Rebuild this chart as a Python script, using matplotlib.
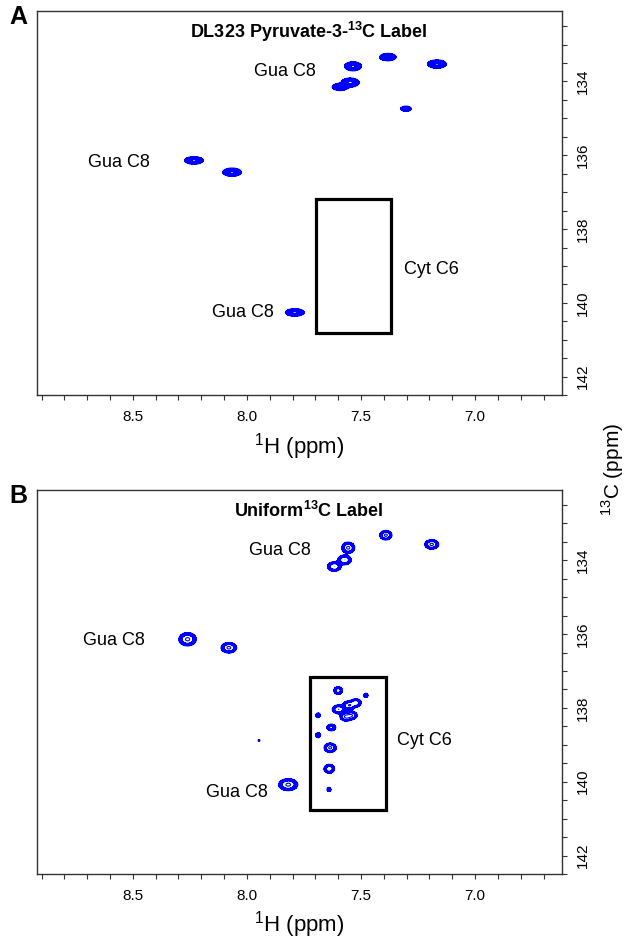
#!/usr/bin/env python3

import matplotlib
matplotlib.use("Agg")
import matplotlib.pyplot as plt
from matplotlib.patches import Rectangle
from matplotlib.ticker import MultipleLocator, FormatStrFormatter
import numpy as np

plt.rcParams['font.family'] = ['Liberation Sans', 'DejaVu Sans']
plt.rcParams['mathtext.fontset'] = 'custom'
plt.rcParams['mathtext.rm'] = 'Liberation Sans'
plt.rcParams['mathtext.bf'] = 'Liberation Sans:bold'

# peak list, panel A (DL323 pyruvate-3-13C): 1H ppm, 13C ppm, height, linewidths
h_a = [7.535, 7.382, 7.167, 7.547, 7.591, 7.303, 8.232, 8.065, 7.790]
c_a = [133.59, 133.34, 133.53, 134.03, 134.15, 134.74, 136.14, 136.46, 140.26]
amp_a = [1.0, 0.9, 1.0, 1.0, 0.8, 0.6, 1.0, 1.0, 1.0]
sx_a = [0.018, 0.018, 0.020, 0.019, 0.018, 0.013, 0.020, 0.020, 0.020]
sy_a = [0.060, 0.050, 0.055, 0.060, 0.050, 0.040, 0.050, 0.055, 0.050]

# peak list, panel B (uniform 13C)
h_b = [7.391, 7.190, 7.556, 7.617, 7.572, 8.260, 8.079, 7.600, 7.479,
       7.598, 7.552, 7.522, 7.565, 7.540, 7.688, 7.630, 7.688, 7.635,
       7.639, 7.640, 7.819, 7.947]
c_b = [133.32, 133.57, 133.66, 134.17, 133.99, 136.14, 136.37, 137.53, 137.66,
       138.04, 137.93, 137.86, 138.24, 138.20, 138.20, 138.53, 138.74, 139.08,
       139.65, 140.21, 140.08, 138.88]
amp_b = [1.0, 1.0, 1.0, 0.9, 0.9, 1.0, 1.0, 0.7, 0.3,
         0.9, 0.9, 0.8, 1.0, 0.8, 0.35, 0.6, 0.4, 1.0,
         0.8, 0.3, 1.0, 0.2]
sx_b = [0.014, 0.016, 0.015, 0.016, 0.016, 0.020, 0.018, 0.011, 0.009,
        0.015, 0.015, 0.013, 0.014, 0.013, 0.008, 0.012, 0.008, 0.014,
        0.013, 0.008, 0.022, 0.006]
sy_b = [0.068, 0.068, 0.080, 0.070, 0.070, 0.095, 0.075, 0.062, 0.050,
        0.065, 0.065, 0.060, 0.062, 0.060, 0.050, 0.056, 0.050, 0.068,
        0.068, 0.050, 0.085, 0.035]

titles = [r'DL323 Pyruvate-3-$\mathbf{^{13}}$C Label', r'Uniform$\mathbf{^{13}}$C Label']
letters = ['A', 'B']
labels = ['Gua C8', 'Gua C8', 'Gua C8', 'Cyt C6']
label_h = [[7.833, 8.561, 8.018, 7.193], [7.856, 8.583, 8.044, 7.220]]
label_c = [[133.73, 136.20, 140.26, 139.10], [133.74, 136.18, 140.28, 138.88]]
box_h = [(7.697, 7.367), (7.725, 7.391)]
box_c = [(137.19, 140.81), (137.15, 140.78)]

xs = np.linspace(6.6, 8.95, 1300)
ys = np.linspace(132.0, 142.6, 1300)
X, Y = np.meshgrid(xs, ys)


def spectrum(h, c, amp, sx, sy):
    z = np.zeros_like(X)
    for i in range(len(h)):
        z += amp[i] * np.exp(-0.5 * (((X - h[i]) / sx[i]) ** 2 + ((Y - c[i]) / sy[i]) ** 2))
    return z


fig = plt.figure(figsize=(6.3, 9.43), dpi=100)
ax_a = fig.add_axes([0.0587, 0.581, 0.833, 0.407])
ax_b = fig.add_axes([0.0587, 0.0732, 0.833, 0.407])

za = spectrum(h_a, c_a, amp_a, sx_a, sy_a)
zb = spectrum(h_b, c_b, amp_b, sx_b, sy_b)

ax_a.contourf(X, Y, za, levels=[0.12, 0.88], colors=['#0000ff'])
ax_a.contour(X, Y, za, levels=[0.12, 0.88], colors='#0000ff', linewidths=0.8)
ax_b.contourf(X, Y, zb, levels=[0.16, 0.5], colors=['#0000ff'])
ax_b.contour(X, Y, zb, levels=[0.16, 0.5, 0.9], colors='#0000ff', linewidths=0.8)

for k, ax in enumerate([ax_a, ax_b]):
    ax.set_xlim(8.92, 6.62)
    ax.set_ylim(142.5, 132.1)
    ax.yaxis.tick_right()
    ax.xaxis.set_major_locator(MultipleLocator(0.5))
    ax.xaxis.set_minor_locator(MultipleLocator(0.1))
    ax.xaxis.set_major_formatter(FormatStrFormatter('%.1f'))
    ax.yaxis.set_major_locator(MultipleLocator(2))
    ax.yaxis.set_minor_locator(MultipleLocator(0.5))
    ax.tick_params(which='both', direction='out', length=3.5, width=0.8, color='#333333')
    ax.tick_params(axis='x', labelsize=11, pad=7)
    ax.tick_params(axis='y', labelsize=11, pad=7)
    for t in ax.get_yticklabels():
        t.set_rotation(90)
        t.set_va('center')
    for s in ax.spines.values():
        s.set_color('#333333')
        s.set_linewidth(1.0)
    ax.set_xlabel(r'$^{1}$H (ppm)', fontsize=16, labelpad=5)

    x0, x1 = box_h[k]
    y0, y1 = box_c[k]
    ax.add_patch(Rectangle((x0, y0), x1 - x0, y1 - y0, fill=False, ec='black', lw=2.3))

    for j, txt in enumerate(labels):
        ax.text(label_h[k][j], label_c[k][j], txt, fontsize=13, ha='center', va='center')

    ax.text(7.73, 132.65, titles[k], fontsize=13, fontweight='bold', ha='center', va='center')
    ax.text(-0.036, 0.985, letters[k], transform=ax.transAxes, fontsize=18,
            fontweight='bold', ha='center', va='center')

fig.text(0.972, 0.502, r'$^{13}$C (ppm)', fontsize=15, rotation=90, ha='center', va='center')

fig.savefig('out.png', dpi=100)
